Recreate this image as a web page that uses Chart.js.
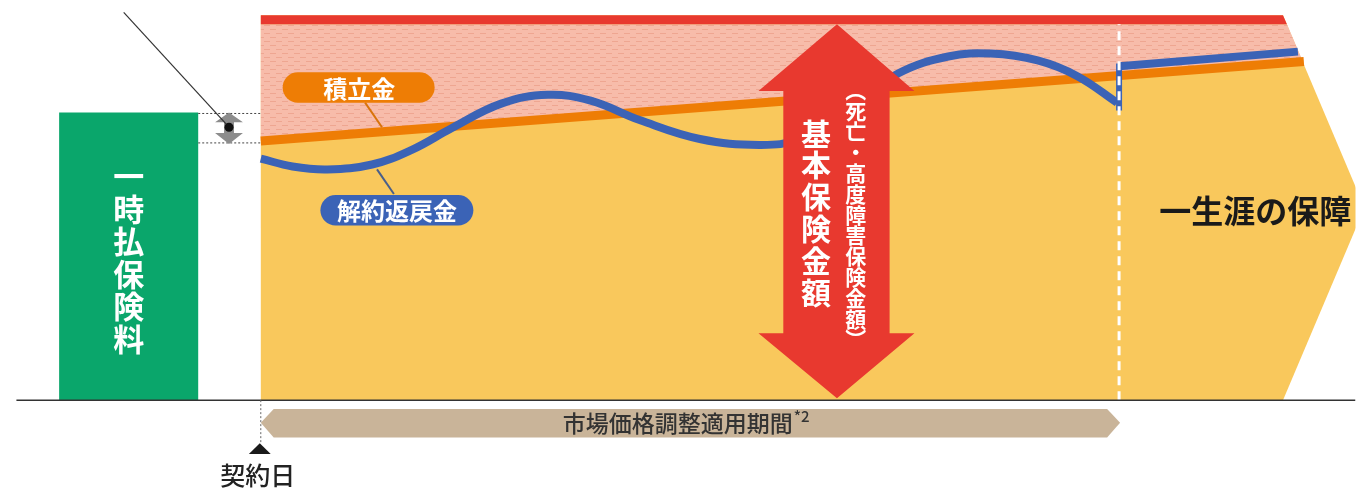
<!DOCTYPE html>
<html lang="ja">
<head>
<meta charset="utf-8">
<title>一時払保険料・基本保険金額</title>
<script src="https://cdn.jsdelivr.net/npm/chart.js@4.4.1/dist/chart.umd.min.js"></script>
<style>
  html, body { margin: 0; padding: 0; background: #fff; }
  canvas { display: block; }
</style>
</head>
<body>
<canvas id="scheme" width="1360" height="492"></canvas>
<script>
// all shapes: x = time axis, y = height above the base line
const premiumBar   = [[55,0],[55,293],[195,293],[195,0]];
const coverArea    = [[258,0],[258,392],[1287,392],[1369,196],[1287,0]];
const surplusArea  = [[258,383],[1291,383],[1307,345],[258,264]];
const topBand      = [[258,392],[1287,392],[1291,383],[258,383]];
const reserve      = [[258,264],[1308,345]];
const surrender    = [[258,246],[290,238],[325,235],[370,240],[410,255],[450,277],[500,302],
                      [547,311],[590,305],[640,285],[700,266],[760,260],[800,266],
                      [850,298],[900,333],[950,350],[993,353],[1040,346],[1080,330],[1120,303]];
const surrenderStep = [[1122,295],[1122,343]];
const surrenderTail = [[1122,340],[1302,355]];
const periodEnd    = [[1122,0],[1122,383]];
const sumArrow     = [[838,383],[916,315],[891,315],[891,68],[916,68],[838,2],
                      [759,68],[784,68],[784,315],[759,315]];
const mvaBand      = [[258,-23],[271,-9],[1110,-9],[1123,-23],[1110,-38],[271,-38]];
const baseLine     = [[12,0],[1360,0]];
const startTick    = [[258,0],[258,-44]];
const startMark    = [[257,-44],[268,-55],[246,-55]];
const gapTop       = [[195,292],[258,292]];
const gapBottom    = [[195,262],[258,262]];
const gapArrow     = [[226,293],[240,283],[231,283],[231,272],[240,272],[226,261],
                      [212,272],[221,272],[221,283],[212,283]];
const gapDot       = [[226,278]];
const gapLeader    = [[226,278],[120,395]];
const reserveLeader   = [[363,303],[380,278]];
const surrenderLeader = [[375,235],[392,210]];

const pts = a => a.map(([x, y]) => ({x, y}));

// light dashed texture of the pink band
function dashPattern() {
  const c = document.createElement('canvas');
  c.width = 12; c.height = 8;
  const g = c.getContext('2d');
  g.fillStyle = '#f7bcaa';
  g.fillRect(0, 0, 12, 8);
  g.fillStyle = '#eea691';
  g.fillRect(0, 1, 6, 1);
  g.fillRect(6, 5, 6, 1);
  return g.createPattern(c, 'repeat');
}

const shape = (data, color) => ({ data: pts(data), fill: 'shape', backgroundColor: color, borderWidth: 0 });
const stroke = (data, color, width, extra) => Object.assign({ data: pts(data), fill: false, borderColor: color, borderWidth: width }, extra || {});

const layers = [
  shape(premiumBar, '#0aa66b'),
  shape(coverArea, '#f9c85c'),
  shape(surplusArea, dashPattern()),
  shape(topBand, '#e8392f'),
  stroke(reserve, '#ee7d05', 9),
  stroke(surrender, '#3b63b6', 8, { tension: 0.4 }),
  stroke(surrenderTail, '#3b63b6', 8),
  stroke(surrenderStep, '#3b63b6', 6),
  stroke(periodEnd, '#ffffff', 3, { borderDash: [9, 6] }),
  shape(sumArrow, '#e8392f'),
  shape(mvaBand, '#c9b499'),
  stroke(baseLine, '#333333', 1.5),
  stroke(startTick, '#666666', 1, { borderDash: [2, 2] }),
  shape(startMark, '#1a1a1a'),
  stroke(gapTop, '#444444', 1, { borderDash: [2, 2] }),
  stroke(gapBottom, '#444444', 1, { borderDash: [2, 2] }),
  shape(gapArrow, '#8c8c8c'),
  stroke(gapLeader, '#333333', 1.2),
  Object.assign(stroke(gapDot, '#111', 0), { pointRadius: 4.5, pointBorderWidth: 0, pointBackgroundColor: '#111' }),
  stroke(reserveLeader, '#d9730a', 2),
  stroke(surrenderLeader, '#4a5f8a', 2)
];
layers.forEach((d, i) => { d.order = layers.length - i; if (d.pointRadius === undefined) d.pointRadius = 0; });

const JP = '"Noto Sans CJK JP", "Noto Sans", sans-serif';

const labelPlugin = {
  id: 'labels',
  afterDatasetsDraw(chart) {
    const { ctx, scales: { x, y } } = chart;
    const px = v => x.getPixelForValue(v), py = v => y.getPixelForValue(v);

    function vertical(text, cx, cy, step, font, color) {
      ctx.save();
      ctx.font = font; ctx.fillStyle = color;
      ctx.textAlign = 'center'; ctx.textBaseline = 'middle';
      [...text].forEach((ch, i) => ctx.fillText(ch, px(cx), py(cy) + i * step));
      ctx.restore();
    }
    function pill(text, x0, x1, yTop, yBot, fill, cx) {
      const l = px(x0), r = px(x1), t = py(yTop), b = py(yBot), rad = (b - t) / 2;
      ctx.save();
      ctx.beginPath();
      ctx.roundRect(l, t, r - l, b - t, rad);
      ctx.fillStyle = fill; ctx.fill();
      ctx.font = 'bold 24px ' + JP; ctx.fillStyle = '#fff';
      ctx.textAlign = 'center'; ctx.textBaseline = 'middle';
      ctx.fillText(text, px(cx), (t + b) / 2 + 1);
      ctx.restore();
    }

    vertical('一時払保険料', 125, 228, 32.6, 'bold 31px ' + JP, '#ffffff');
    vertical('基本保険金額', 817, 272, 31.8, 'bold 30px ' + JP, '#ffffff');
    vertical('︵死亡・高度障害保険金額︶', 857, 316, 20.8, 'bold 21px ' + JP, '#ffffff');

    pill('積立金', 280, 433, 334, 303, '#ee7d05', 357);
    pill('解約返戻金', 318, 472, 209, 178, '#3b63b6', 395);

    ctx.save();
    ctx.fillStyle = '#1a1a1a';
    ctx.font = 'bold 32px ' + JP;
    ctx.textAlign = 'center'; ctx.textBaseline = 'middle';
    ctx.fillText('一生涯の保障', px(1259), py(193));

    ctx.fillStyle = '#333333';
    ctx.font = '500 23px ' + JP;
    ctx.textAlign = 'left';
    const main = '市場価格調整適用期間';
    ctx.fillText(main, px(562), py(-24));
    const w = ctx.measureText(main).width;
    ctx.font = '500 15px ' + JP;
    ctx.fillText('*2', px(562) + w + 1, py(-24) - 7);

    ctx.fillStyle = '#222222';
    ctx.font = '500 25px ' + JP;
    ctx.textAlign = 'center';
    ctx.fillText('契約日', px(255), py(-77));
    ctx.restore();
  }
};

new Chart(document.getElementById('scheme'), {
  type: 'line',
  data: { datasets: layers },
  options: {
    responsive: false,
    animation: false,
    layout: { padding: 0 },
    scales: {
      x: { type: 'linear', min: 0, max: 1360, display: false },
      y: { type: 'linear', min: -89, max: 403, display: false }
    },
    plugins: { legend: { display: false }, tooltip: { enabled: false } }
  },
  plugins: [labelPlugin]
});
</script>
</body>
</html>
